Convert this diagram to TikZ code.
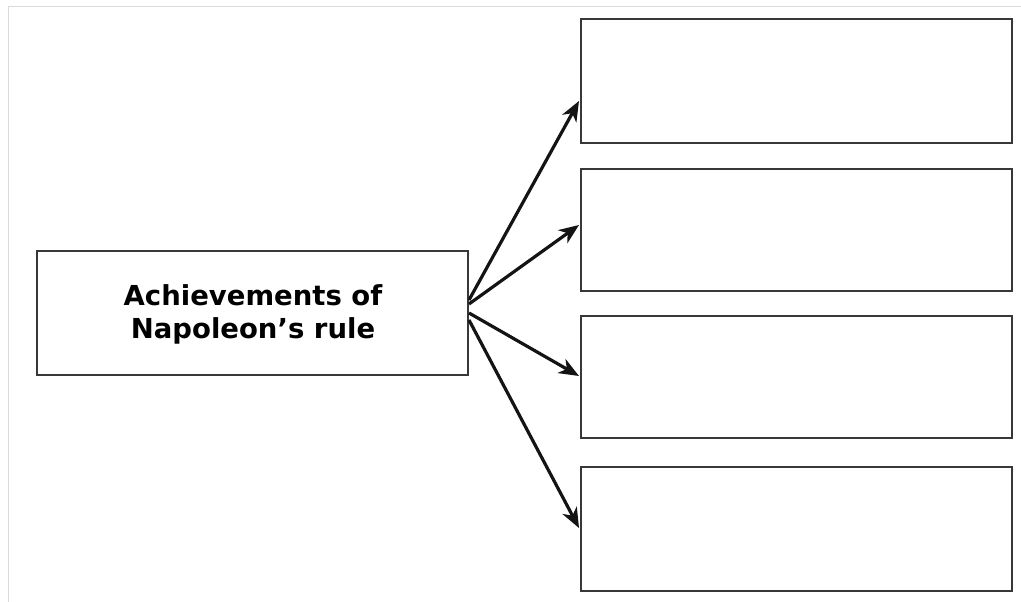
\documentclass[tikz,border=0pt]{standalone}
\usepackage{fontspec}
\setmainfont{DejaVu Sans}
\usetikzlibrary{arrows.meta}
\begin{document}
\begin{tikzpicture}[x=1pt,y=-1pt,
  frameline/.style={draw=black!14, line width=1.5pt},
  boxstyle/.style={draw=black!78, line width=2.4pt, fill=white},
  arr/.style={draw=black!92, line width=3.2pt, -{Stealth[length=20pt,width=16pt,inset=6pt]}}]
\useasboundingbox (0,0) rectangle (1021,602);
\draw[frameline] (8.5,602) -- (8.5,6.5) -- (1021,6.5);
\path[boxstyle] (37,251) rectangle (468,375);
\node[font=\bfseries\fontsize{27.5}{33}\selectfont, align=center] (main) at (253,314) {Achievements of\\Napoleon’s rule};
\path[boxstyle] (581,19) rectangle (1012,143);
\path[boxstyle] (581,169) rectangle (1012,291);
\path[boxstyle] (581,316) rectangle (1012,438);
\path[boxstyle] (581,467) rectangle (1012,591);
\coordinate (s1) at (469,300);
\coordinate (s2) at (469,304);
\coordinate (s3) at (469,313);
\coordinate (s4) at (469,320);
\coordinate (t1) at (579,101);
\coordinate (t2) at (579,225);
\coordinate (t3) at (579,376);
\coordinate (t4) at (579,528);
\draw[arr] (s1) -- (t1);
\draw[arr] (s2) -- (t2);
\draw[arr] (s3) -- (t3);
\draw[arr] (s4) -- (t4);
\end{tikzpicture}
\end{document}
